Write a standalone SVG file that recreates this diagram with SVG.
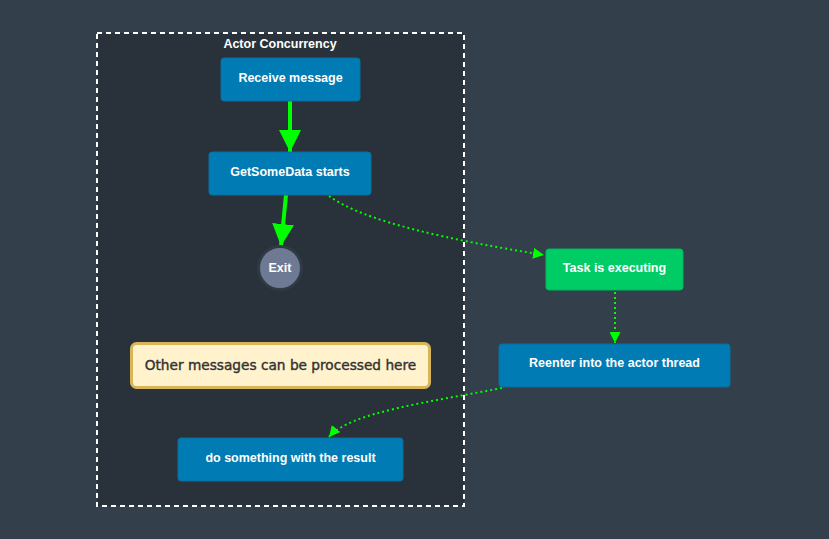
<svg xmlns="http://www.w3.org/2000/svg" width="829" height="539" viewBox="0 0 829 539">
<defs>
<style>
.bg{fill:#333f4a}
.cluster{fill:#29313a;stroke:#ffffff;stroke-width:2;stroke-dasharray:5,4}
.blue{fill:#007bb3;stroke:#0a6f9f;stroke-width:1}
.green{fill:#00cc66;stroke:#00b85c;stroke-width:1}
.lbl{font-family:"Liberation Sans",Arial,sans-serif;font-size:12.5px;font-weight:bold;fill:#ffffff;text-anchor:middle;dominant-baseline:central}
.note{fill:#fff2cc;stroke:#d6b656;stroke-width:3}
.notelbl{font-family:"DejaVu Sans",Verdana,sans-serif;font-size:13.7px;fill:#333333;stroke:#333333;stroke-width:0.4;text-anchor:middle;dominant-baseline:central}
.thick{fill:none;stroke:#00ff00;stroke-width:4}
.dot{fill:none;stroke:#00ff00;stroke-width:2;stroke-dasharray:2,3}
</style>
<marker id="bigArrow" viewBox="0 0 10 10" refX="10" refY="5" markerUnits="userSpaceOnUse" markerWidth="22" markerHeight="22" orient="auto">
<path d="M0,0 L10,5 L0,10 Z" fill="#00ff00"/>
</marker>
<marker id="smallArrow" viewBox="0 0 10 10" refX="10" refY="5" markerUnits="userSpaceOnUse" markerWidth="11" markerHeight="11" orient="auto">
<path d="M0,0 L10,5 L0,10 Z" fill="#00ff00"/>
</marker>
</defs>
<rect class="bg" x="0" y="0" width="829" height="539"/>
<g id="cluster-actor">
<rect class="cluster" x="97" y="33" width="367" height="473"/>
<text class="lbl" x="280" y="44">Actor Concurrency</text>
</g>
<g id="connectors">
<path class="thick" d="M290,101 L290,152" marker-end="url(#bigArrow)"/>
<path class="thick" d="M286,195 L281,246" marker-end="url(#bigArrow)"/>
<path class="dot" d="M329,196 C365,222 450,240 544,255" marker-end="url(#smallArrow)"/>
<path class="dot" d="M615,292 L615,343" marker-end="url(#smallArrow)"/>
<path class="dot" d="M502,388 C430,402 350,412 329,437" marker-end="url(#smallArrow)"/>
</g>
<g id="node-receive">
<rect class="blue" x="221" y="58" width="139" height="43" rx="3"/>
<text class="lbl" x="290.5" y="78">Receive message</text>
</g>
<g id="node-getsomedata">
<rect class="blue" x="209" y="152" width="162" height="43" rx="3"/>
<text class="lbl" x="290" y="172">GetSomeData starts</text>
</g>
<g id="node-exit">
<circle cx="280" cy="268" r="21.5" fill="#6e7a94" stroke="#2f3a44" stroke-width="3"/>
<text class="lbl" x="280" y="268">Exit</text>
</g>
<g id="node-task">
<rect class="green" x="546" y="249" width="137" height="41" rx="3"/>
<text class="lbl" x="614.5" y="268">Task is executing</text>
</g>
<g id="node-reenter">
<rect class="blue" x="499" y="344" width="231" height="43" rx="3"/>
<text class="lbl" x="614.5" y="363">Reenter into the actor thread</text>
</g>
<g id="node-note">
<rect class="note" x="131.5" y="343.5" width="298" height="44" rx="5"/>
<text class="notelbl" x="280.5" y="365">Other messages can be processed here</text>
</g>
<g id="node-result">
<rect class="blue" x="178" y="438" width="225" height="43" rx="3"/>
<text class="lbl" x="290.5" y="458">do something with the result</text>
</g>
</svg>
